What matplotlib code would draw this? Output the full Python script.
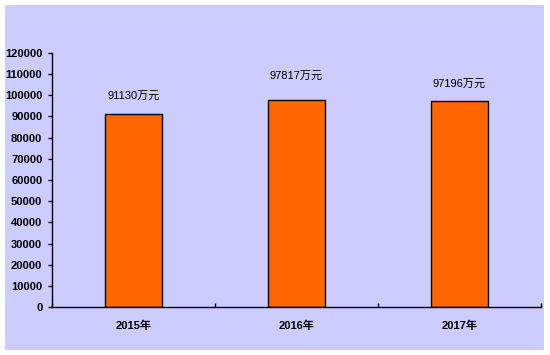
import matplotlib.pyplot as plt
from matplotlib.patches import Rectangle

plt.rcParams['font.family'] = ['Liberation Sans', 'Noto Sans CJK SC', 'DejaVu Sans']

years = ['2015年', '2016年', '2017年']
values = [91130, 97817, 97196]
labels = ['91130万元', '97817万元', '97196万元']
yticks = list(range(0, 120001, 10000))

# label heights above the bar tops, as in the original
label_gap = [8000, 10800, 7700]

fig = plt.figure(figsize=(5.5, 3.55), dpi=100)
fig.patch.set_facecolor('white')
bg = Rectangle((5 / 550, 5 / 355), 539 / 550, 345 / 355,
               transform=fig.transFigure, facecolor='#CCCCFF',
               edgecolor='none', zorder=-10)
fig.add_artist(bg)

ax = fig.add_axes([52 / 550, 48 / 355, 489 / 550, 254 / 355])
ax.set_facecolor('none')
ax.set_zorder(5)

x = list(range(len(years)))
ax.bar(x, values, width=0.35, color='#FF6600', edgecolor='black', linewidth=1, zorder=2)

for i, v in enumerate(values):
    ax.text(i, v + label_gap[i], labels[i], ha='center', va='center', fontsize=8)

ax.set_xlim(-0.5, len(years) - 0.5)
ax.set_ylim(0, 120000)
ax.set_yticks(yticks)
ax.set_yticklabels([str(t) for t in yticks], fontsize=8, fontweight='bold')
ax.set_xticks(x)
ax.set_xticklabels(years, fontsize=8, fontweight='bold')
ax.set_xticks([-0.5, 0.5, 1.5, 2.5], minor=True)

ax.tick_params(axis='y', direction='out', length=3, width=1, pad=4)
ax.tick_params(axis='x', which='major', length=0, pad=10)
ax.tick_params(axis='x', which='minor', direction='in', length=3, width=1)

for s in ['top', 'right']:
    ax.spines[s].set_visible(False)
for s in ['left', 'bottom']:
    ax.spines[s].set_linewidth(1)

fig.savefig('out.png', dpi=100)
